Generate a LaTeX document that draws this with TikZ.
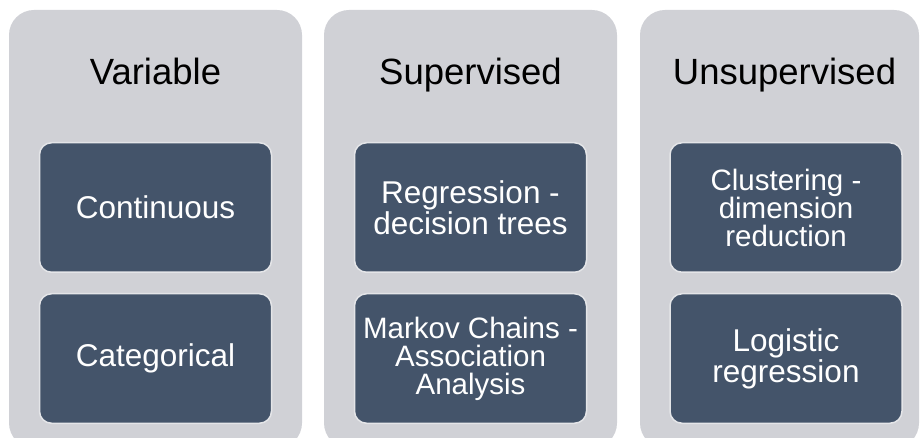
\documentclass[tikz,border=0pt]{standalone}
\usepackage{fontspec}
\setmainfont{Liberation Sans}
\usepackage{xcolor}
\usepackage{tikz}
\usetikzlibrary{positioning}
\definecolor{PanelGrey}{RGB}{208,209,214}
\definecolor{ItemBlue}{RGB}{68,84,106}
\definecolor{EdgeGrey}{RGB}{228,229,232}

\begin{document}
\begin{tikzpicture}[
x=1pt,y=-1pt,
node distance=20pt,
panel/.style={rectangle,rounded corners=25pt,fill=PanelGrey,minimum width=293pt,minimum height=438pt,inner sep=0pt},
head/.style={anchor=base,inner sep=0pt,font=\fontsize{36.5}{40}\selectfont},
item/.style={rectangle,rounded corners=12pt,draw=EdgeGrey,line width=1.5pt,fill=ItemBlue,text=white,minimum width=232pt,minimum height=129.5pt,align=center,inner sep=2pt,font=\fontsize{31.5}{31}\selectfont},
tight/.style={font=\fontsize{29.5}{28}\selectfont}
]
\useasboundingbox (0,0) rectangle (921,438);
\clip (0,0) rectangle (921,438);
% three columns
\node[panel] (p1) at (155.5,229) {};
\node[panel] (p2) at (470.5,229) {};
\node[panel,minimum width=279pt] (p3) at (779.5,229) {};
\node[head] (h1) at (155.5,85) {Variable};
\node[head] (h2) at (470.5,85) {Supervised};
\node[head] (h3) at (784.5,85) {Unsupervised};
% items
\node[item] (v1) at (155.5,207.5) {Continuous};
\node[item,below=of v1] (v2) {Categorical};
\node[item] (s1) at (470.5,207.5) {Regression -\\decision trees};
\node[item,tight,below=of s1] (s2) {Markov Chains -\\Association\\Analysis};
\node[item,tight] (u1) at (786,207.5) {Clustering -\\dimension\\reduction};
\node[item,below=of u1] (u2) {Logistic\\regression};
\end{tikzpicture}
\end{document}
